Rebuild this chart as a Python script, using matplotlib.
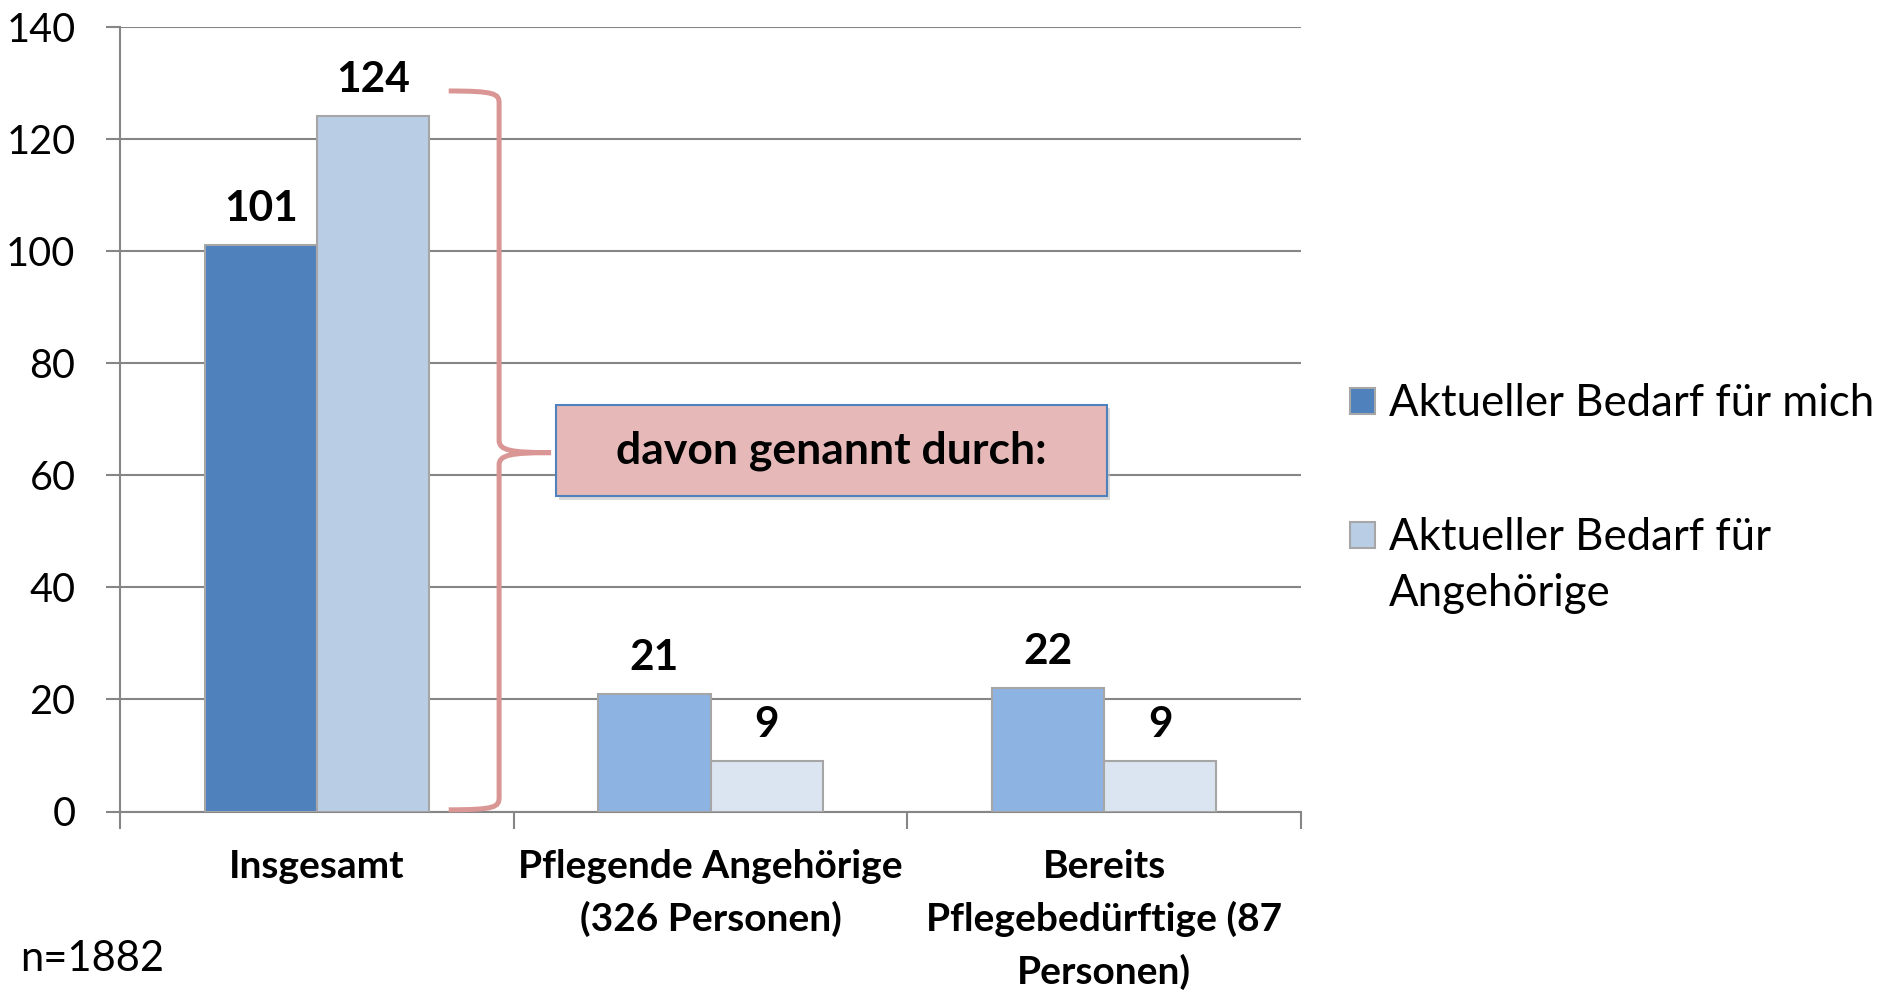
import matplotlib
matplotlib.use("Agg")
import matplotlib.pyplot as plt
from matplotlib.patches import Rectangle, PathPatch
from matplotlib.path import Path
import numpy as np

plt.rcParams['font.family'] = ['Lato', 'DejaVu Sans']

categories = ["Insgesamt", "Pflegende Angehörige\n(326 Personen)", "Bereits\nPflegebedürftige (87\nPersonen)"]
series_names = ["Aktueller Bedarf für mich", "Aktueller Bedarf für\nAngehörige"]
bedarf_mich = [101, 21, 22]
bedarf_angehoerige = [124, 9, 9]
colors_mich = ["#4F81BD", "#8DB3E2", "#8DB3E2"]
colors_ang = ["#B9CDE5", "#DBE5F1", "#DBE5F1"]
y_ticks = [0, 20, 40, 60, 80, 100, 120, 140]
note = "n=1882"
box_text = "davon genannt durch:"

W, H = 1885, 991
fig = plt.figure(figsize=(W / 100, H / 100), dpi=100)
ax = fig.add_axes([120 / W, 1 - 811.5 / H, (1301 - 120) / W, (811.5 - 26.5) / H])

x = np.arange(len(categories))
bw = 0.285
ax.bar(x - bw / 2, bedarf_mich, bw, color=colors_mich, edgecolor="#A6A6A6", linewidth=1.5, zorder=3)
ax.bar(x + bw / 2, bedarf_angehoerige, bw, color=colors_ang, edgecolor="#A6A6A6", linewidth=1.5, zorder=3)

for xi, v in zip(x - bw / 2, bedarf_mich):
    ax.annotate(str(v), (xi, v), xytext=(0, 26), textcoords="offset points",
                ha="center", va="center", fontsize=30.5, fontweight="bold")
for xi, v in zip(x + bw / 2, bedarf_angehoerige):
    ax.annotate(str(v), (xi, v), xytext=(0, 26), textcoords="offset points",
                ha="center", va="center", fontsize=30.5, fontweight="bold")

ax.set_xlim(-0.5, 2.5)
ax.set_ylim(0, 140)
ax.set_yticks(y_ticks)
ax.tick_params(axis="y", labelsize=28.5, length=10, width=1.5, color="#868686", pad=22)
ax.set_xticks(x)
ax.set_xticklabels(categories, fontsize=28, fontweight="bold", linespacing=1.55)
ax.tick_params(axis="x", which="major", length=0, pad=27)
ax.set_xticks([-0.5, 0.5, 1.5, 2.5], minor=True)
ax.tick_params(axis="x", which="minor", length=12, width=1.5, color="#868686", direction="out")
ax.grid(axis="y", color="#868686", linewidth=1.5, zorder=0)
ax.set_axisbelow(True)
for s in ["top", "right"]:
    ax.spines[s].set_visible(False)
for s in ["left", "bottom"]:
    ax.spines[s].set_color("#868686")
    ax.spines[s].set_linewidth(1.5)

# curly brace
xv, xt, xm = 0.463, 0.335, 0.595
yt, ym, yb = 128.5, 64.0, 0.3
dy = 2.2
verts = [
    (xt, yt), (xv - 0.01, yt), (xv, yt - 0.5), (xv, yt - dy),
    (xv, ym + dy),
    (xv, ym + 0.4), (xv + 0.03, ym), (xm, ym),
    (xv + 0.03, ym), (xv, ym - 0.4), (xv, ym - dy),
    (xv, yb + dy),
    (xv, yb + 0.5), (xv - 0.01, yb), (xt, yb),
]
codes = [Path.MOVETO, Path.CURVE4, Path.CURVE4, Path.CURVE4,
         Path.LINETO,
         Path.CURVE4, Path.CURVE4, Path.CURVE4,
         Path.CURVE4, Path.CURVE4, Path.CURVE4,
         Path.LINETO,
         Path.CURVE4, Path.CURVE4, Path.CURVE4]
ax.add_patch(PathPatch(Path(verts, codes), facecolor="none", edgecolor="#D99694",
                       linewidth=3.6, zorder=4, clip_on=False, capstyle="butt"))

# text box
bx0, bx1, by0, by1 = 0.607, 2.008, 56.2, 72.5
ax.add_patch(Rectangle((bx0 + 0.008, by0 - 0.6), bx1 - bx0, by1 - by0, facecolor="#BFBFBF",
                       edgecolor="none", alpha=0.6, zorder=4))
ax.add_patch(Rectangle((bx0, by0), bx1 - bx0, by1 - by0, facecolor="#E6B9B8",
                       edgecolor="#4F81BD", linewidth=1.5, zorder=5))
ax.text((bx0 + bx1) / 2, (by0 + by1) / 2, box_text, ha="center", va="center",
        fontsize=32, fontweight="bold", zorder=6)

# legend (manual)
leg_cols = ["#4F81BD", "#B9CDE5"]
leg_sq_y = [388, 522]
leg_txt_y = [403, 537]
for c, sy, ty, name in zip(leg_cols, leg_sq_y, leg_txt_y, series_names):
    fig.patches.append(Rectangle((1350 / W, 1 - (sy + 26) / H), 25 / W, 26 / H,
                                 facecolor=c, edgecolor="#A6A6A6", linewidth=1.5,
                                 transform=fig.transFigure, figure=fig))
    for i, ln in enumerate(name.split("\n")):
        fig.text(1389 / W, 1 - (ty + i * 56.5) / H, ln, ha="left", va="center", fontsize=31.5)

fig.text(20 / W, 1 - 959 / H, note, ha="left", va="center", fontsize=30)

fig.savefig("out.png", dpi=100)
